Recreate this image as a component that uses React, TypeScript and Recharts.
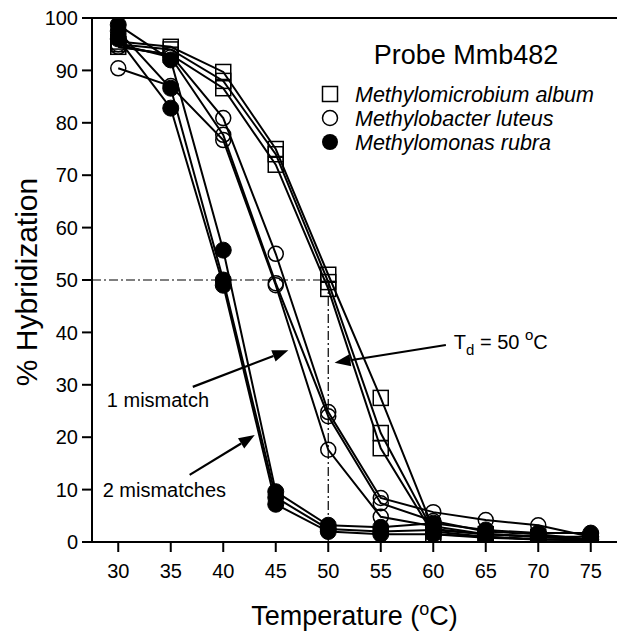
import React from "react";
import { LineChart, Line, XAxis, YAxis, ReferenceLine } from "recharts";

const temps = [30, 35, 40, 45, 50, 55, 60, 65, 70, 75];
const yTicks = [0, 10, 20, 30, 40, 50, 60, 70, 80, 90, 100];

// Methylomicrobium album (open squares), three replicates
const album1 = [95.5, 94.5, 89.7, 75, 51, 27.5, 2.5, 1.5, 1, 0.5];
const album2 = [95, 94, 88, 74, 49.6, 20.8, 2, 1, 0.5, 0.5];
const album3 = [94.5, 93, 86.6, 72, 48.3, 17.9, 1.5, 1, 0.5, 0.3];

// Methylobacter luteus (open circles)
const luteus1 = [94.5, 93, 80.9, 55, 24.8, 8.4, 5.7, 4.2, 3.2, 1];
const luteus2 = [95, 92.5, 77.7, 49.4, 24, 7.4, 4, 2, 1.5, 0.5];
const luteus3 = [90.4, 87, 76.7, 49, 17.6, 4.8, 3, 1.5, 1, 0.5];

// Methylomonas rubra (filled circles)
const rubra1 = [98.7, 92, 55.7, 9.6, 3.2, 2.8, 3.6, 2.3, 1.7, 1.7];
const rubra2 = [97.5, 86.6, 50, 8.5, 2.5, 2, 2.3, 1.5, 1, 1];
const rubra3 = [96, 82.8, 49, 7.2, 2, 1.5, 1.5, 0.8, 0.5, 0.5];

// annotation arrows, in data units (tail -> head)
const arrowOne = [{ x: 37.1, y: 29.6 }, { x: 46.2, y: 36.6 }];
const arrowTwo = [{ x: 36.8, y: 12.8 }, { x: 43.0, y: 20.4 }];
const arrowTd = [{ x: 61.2, y: 37.6 }, { x: 50.6, y: 34.2 }];

const FONT = "'Liberation Sans', Arial, Helvetica, sans-serif";

const rows = (vals: number[]) => temps.map((t, i) => ({ t, v: vals[i] }));

const squareDot = (p: any) => (
  <rect key={p.index} x={p.cx - 7.5} y={p.cy - 7.5} width={15} height={15}
    fill="none" stroke="#000" strokeWidth={1.5} />
);
const openDot = (p: any) => (
  <circle key={p.index} cx={p.cx} cy={p.cy} r={7.5} fill="none" stroke="#000" strokeWidth={1.5} />
);
const filledDot = (p: any) => (
  <circle key={p.index} cx={p.cx} cy={p.cy} r={8} fill="#000" stroke="#000" strokeWidth={1} />
);

function arrowShape(label: (x: number, y: number) => React.ReactNode) {
  return (p: any) => {
    const { x1, y1, x2, y2 } = p;
    if (x1 == null) return <g />;
    const ang = Math.atan2(y2 - y1, x2 - x1);
    const len = 16, w = 6;
    const bx = x2 - len * Math.cos(ang), by = y2 - len * Math.sin(ang);
    const px = -Math.sin(ang) * w, py = Math.cos(ang) * w;
    return (
      <g>
        <line x1={x1} y1={y1} x2={bx} y2={by} stroke="#000" strokeWidth={2.2} />
        <polygon points={`${x2},${y2} ${bx + px},${by + py} ${bx - px},${by - py}`} fill="#000" />
        {label(x1, y1)}
      </g>
    );
  };
}

const txt = { fontFamily: FONT, fontSize: 20, fill: "#000" };

// legend drawn on top of the chart, top right
const LegendBox = () => (
  <svg width={300} height={130} style={{ position: "absolute", left: 318, top: 30, overflow: "visible" }}>
    <text x={148} y={34} textAnchor="middle" style={{ fontFamily: FONT, fontSize: 27 }}>Probe Mmb482</text>
    <rect x={4.5} y={56.5} width={15} height={15} fill="none" stroke="#000" strokeWidth={1.5} />
    <text x={37} y={72} style={{ fontFamily: FONT, fontSize: 21.5, fontStyle: "italic" }}>Methylomicrobium album</text>
    <circle cx={12} cy={88} r={7.5} fill="none" stroke="#000" strokeWidth={1.5} />
    <text x={37} y={96} style={{ fontFamily: FONT, fontSize: 21.5, fontStyle: "italic" }}>Methylobacter luteus</text>
    <circle cx={12} cy={112} r={8} fill="#000" />
    <text x={37} y={120} style={{ fontFamily: FONT, fontSize: 21.5, fontStyle: "italic" }}>Methylomonas rubra</text>
  </svg>
);

const xLabel = (p: any) => {
  const vb = p.viewBox || { x: 92, y: 542, width: 525, height: 60 };
  return (
    <text x={vb.x + vb.width / 2} y={vb.y + 83} textAnchor="middle" style={{ fontFamily: FONT, fontSize: 27 }}>
      Temperature (<tspan dy={-10} fontSize={18}>o</tspan><tspan dy={10}>C)</tspan>
    </text>
  );
};

const yLabel = (p: any) => {
  const vb = p.viewBox || { x: 0, y: 18, width: 92, height: 524 };
  const cy = vb.y + vb.height / 2 + 2;
  return (
    <text x={37} y={cy} textAnchor="middle" transform={`rotate(-90 37 ${cy})`}
      style={{ fontFamily: FONT, fontSize: 30 }}>
      % Hybridization
    </text>
  );
};

export default function App() {
  const series = [
    { d: album1, dot: squareDot }, { d: album2, dot: squareDot }, { d: album3, dot: squareDot },
    { d: luteus1, dot: openDot }, { d: luteus2, dot: openDot }, { d: luteus3, dot: openDot },
    { d: rubra1, dot: filledDot }, { d: rubra2, dot: filledDot }, { d: rubra3, dot: filledDot },
  ];
  return (
    <div style={{ position: "absolute", left: 0, top: 0, width: 617, height: 631, background: "#fff" }}>
      <LineChart width={617} height={631} margin={{ top: 18, right: 0, bottom: 29, left: 0 }}>
        <XAxis type="number" dataKey="t" domain={[27.5, 77.5]} ticks={temps} allowDataOverflow
          height={60} tickSize={10} tickMargin={12} interval={0}
          stroke="#000" strokeWidth={2}
          tick={{ fill: "#000", fontSize: 20, fontFamily: FONT }}
          tickLine={{ stroke: "#000", strokeWidth: 2 }}
          label={xLabel} />
        <YAxis type="number" dataKey="v" domain={[0, 100]} ticks={yTicks} allowDataOverflow
          width={92} tickSize={10} tickMargin={4} interval={0}
          stroke="#000" strokeWidth={2}
          tick={{ fill: "#000", fontSize: 20, fontFamily: FONT }}
          tickLine={{ stroke: "#000", strokeWidth: 2 }}
          label={yLabel} />
        <ReferenceLine y={100} stroke="#000" strokeWidth={2} />
        <ReferenceLine segment={[{ x: 27.5, y: 50 }, { x: 50, y: 50 }]} stroke="#000" strokeWidth={1.2}
          strokeDasharray="9 3 2 3" ifOverflow="visible" />
        <ReferenceLine segment={[{ x: 50, y: 50 }, { x: 50, y: 0 }]} stroke="#000" strokeWidth={1.2}
          strokeDasharray="9 3 2 3" ifOverflow="visible" />
        {series.map((s, i) => (
          <Line key={i} data={rows(s.d)} dataKey="v" type="linear" stroke="#000" strokeWidth={2}
            dot={s.dot} activeDot={false} legendType="none" isAnimationActive={false} />
        ))}
        <ReferenceLine segment={arrowOne} ifOverflow="visible"
          shape={arrowShape((x, y) => <text x={x - 86} y={y + 20} style={txt}>1 mismatch</text>)} />
        <ReferenceLine segment={arrowTwo} ifOverflow="visible"
          shape={arrowShape((x, y) => <text x={x - 87} y={y + 22} style={txt}>2 mismatches</text>)} />
        <ReferenceLine segment={arrowTd} ifOverflow="visible"
          shape={arrowShape((x, y) => (
            <text x={x + 8} y={y + 4} style={txt}>
              T<tspan dy={6} fontSize={15}>d</tspan><tspan dy={-6}> = 50 </tspan>
              <tspan dy={-9} fontSize={15}>o</tspan><tspan dy={9}>C</tspan>
            </text>
          ))} />
      </LineChart>
      <LegendBox />
    </div>
  );
}
